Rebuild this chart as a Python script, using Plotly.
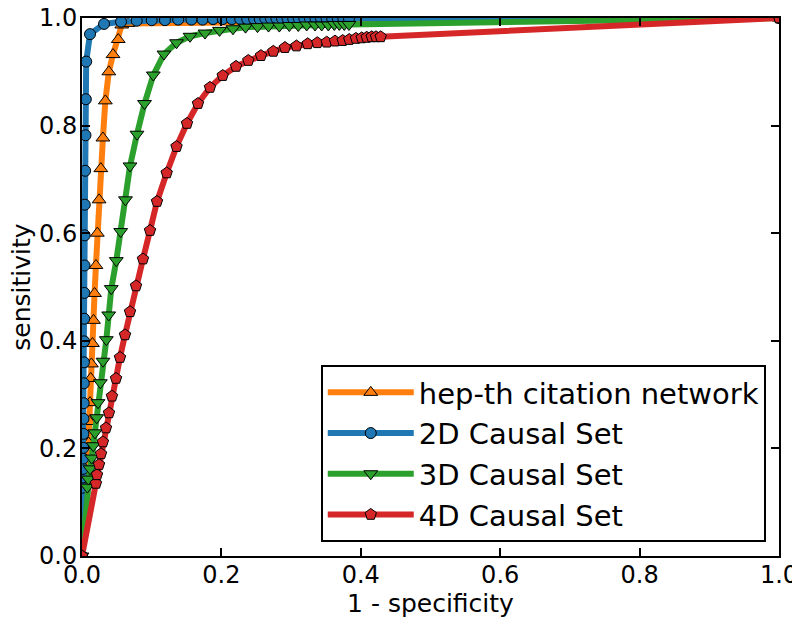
import plotly.graph_objects as go

# ---- data ----
hep_x = [0.0, 0.0085, 0.0095, 0.0105, 0.0115, 0.0125, 0.0135, 0.0150, 0.0165, 0.0180, 0.0200,
         0.0220, 0.0245, 0.0270, 0.0300, 0.0335, 0.0385, 0.0445, 0.0520, 0.0570, 0.0660, 1.0]
hep_y = [0.0, 0.170, 0.210, 0.250, 0.285, 0.330, 0.357, 0.395, 0.438, 0.488, 0.540,
         0.600, 0.662, 0.720, 0.777, 0.846, 0.900, 0.932, 0.960, 0.987, 0.990, 1.0]

c2d_x = [0.0, 0.0010, 0.0012, 0.0014, 0.0016, 0.0018, 0.0020, 0.0022, 0.0024, 0.0026, 0.0028,
         0.0030, 0.0032, 0.0034, 0.0036, 0.0038, 0.0040, 0.0045, 0.0050, 0.0055, 0.0060, 0.0115,
         0.0316, 0.056, 0.0785, 0.100, 0.119, 0.138, 0.157, 0.173, 0.188, 0.202, 0.215, 0.227,
         0.237, 0.247, 0.255, 0.263, 0.271, 0.279, 0.287, 0.295, 0.303, 0.311, 0.319, 0.327,
         0.335, 0.343, 0.351, 0.359, 0.367, 0.375, 0.383, 1.0]
c2d_y = [0.0, 0.127, 0.146, 0.162, 0.181, 0.201, 0.227, 0.255, 0.284, 0.321, 0.360,
         0.399, 0.441, 0.489, 0.540, 0.596, 0.653, 0.716, 0.782, 0.849, 0.919, 0.970,
         0.989, 0.993, 0.995, 0.996, 0.996, 0.997, 0.997, 0.997, 0.998, 0.998, 0.998, 0.998,
         0.998, 0.998, 0.998, 0.999, 0.999, 0.999, 0.999, 0.999, 0.999, 0.999, 0.999, 0.999,
         0.999, 0.999, 0.999, 0.999, 0.999, 0.999, 0.999, 1.0]

c3d_x = [0.0, 0.0076, 0.0090, 0.0115, 0.0139, 0.0162, 0.0187, 0.0211, 0.0230, 0.0263, 0.0301,
         0.0349, 0.0383, 0.0420, 0.0492, 0.0555, 0.0624, 0.0689, 0.0789, 0.0897, 0.1023,
         0.1176, 0.1356, 0.1550, 0.1765, 0.1973, 0.2166, 0.2346, 0.2518, 0.2676, 0.2831,
         0.2974, 0.3103, 0.3224, 0.3343, 0.3439, 0.3534, 0.3620, 0.3692, 0.3763, 0.3830, 1.0]
c3d_y = [0.0, 0.128, 0.143, 0.162, 0.182, 0.205, 0.229, 0.257, 0.285, 0.322, 0.362,
         0.402, 0.448, 0.497, 0.549, 0.603, 0.662, 0.725, 0.784, 0.841, 0.894,
         0.933, 0.954, 0.966, 0.972, 0.977, 0.980, 0.983, 0.984, 0.985, 0.985,
         0.986, 0.986, 0.987, 0.987, 0.987, 0.987, 0.988, 0.988, 0.988, 0.988, 1.0]

c4d_x = [0.0, 0.0200, 0.0215, 0.0244, 0.0273, 0.0300, 0.0344, 0.0387, 0.0430, 0.0488, 0.0545,
         0.0617, 0.0689, 0.0775, 0.0875, 0.0976, 0.1076, 0.1215, 0.1356, 0.1506, 0.1664,
         0.1836, 0.2019, 0.2210, 0.2386, 0.2568, 0.2745, 0.2912, 0.3077, 0.3238, 0.3376,
         0.3511, 0.3630, 0.3740, 0.3835, 0.3930, 0.4013, 0.4085, 0.4156, 0.4218, 0.4285, 1.0]
c4d_y = [0.0, 0.135, 0.151, 0.170, 0.190, 0.212, 0.238, 0.266, 0.297, 0.330, 0.369,
         0.411, 0.454, 0.502, 0.552, 0.605, 0.659, 0.712, 0.761, 0.804, 0.841,
         0.871, 0.893, 0.910, 0.921, 0.930, 0.938, 0.945, 0.948, 0.952, 0.954,
         0.955, 0.957, 0.958, 0.960, 0.962, 0.963, 0.964, 0.965, 0.965, 0.965, 1.0]

names = ["hep-th citation network", "2D Causal Set", "3D Causal Set", "4D Causal Set"]
tick_vals = [0.0, 0.2, 0.4, 0.6, 0.8, 1.0]
tick_text = ["0.0", "0.2", "0.4", "0.6", "0.8", "1.0"]
x_title = "1 - specificity"
y_title = "sensitivity"

colors = ["#ff7f0e", "#1f77b4", "#2ca02c", "#d62728"]
symbols = ["triangle-up", "circle", "triangle-down", "pentagon"]
sizes = [12, 11, 12, 12]

fig = go.Figure()
for xs, ys, name, col, sym, sz in zip(
        [hep_x, c2d_x, c3d_x, c4d_x], [hep_y, c2d_y, c3d_y, c4d_y],
        names, colors, symbols, sizes):
    fig.add_trace(go.Scatter(
        x=xs, y=ys, name=name, mode="lines+markers",
        line=dict(color=col, width=6),
        marker=dict(symbol=sym, size=sz, color=col,
                    line=dict(color="black", width=1)),
    ))

axis_common = dict(
    range=[0, 1], tickvals=tick_vals, ticktext=tick_text,
    showgrid=False, zeroline=False, automargin=False,
    showline=True, linecolor="black", linewidth=2, mirror="allticks",
    ticks="inside", ticklen=8, tickwidth=1.5, tickcolor="black",
    ticklabeloverflow="allow",
    tickfont=dict(family="DejaVu Sans", size=24, color="black"),
    title_font=dict(family="DejaVu Sans", size=25, color="black"),
)

# the page body adds an 8px offset, so margins are set smaller on top/left
fig.update_layout(
    width=800, height=624,
    margin=dict(l=74, r=29, t=10, b=76, autoexpand=False),
    paper_bgcolor="white", plot_bgcolor="white",
    xaxis=dict(axis_common, ticklabelstandoff=-4,
               title=dict(text=x_title, standoff=6)),
    yaxis=dict(axis_common, ticklabelstandoff=-2),
    legend=dict(
        x=0.981, y=0.026, xanchor="right", yanchor="bottom",
        bordercolor="black", borderwidth=2, bgcolor="white",
        font=dict(family="DejaVu Sans", size=29, color="black"),
        itemwidth=86, tracegroupgap=0,
    ),
    showlegend=True,
    annotations=[dict(
        text=y_title, textangle=-90, showarrow=False,
        xref="paper", yref="paper", x=-0.088, y=0.5,
        xanchor="center", yanchor="middle",
        font=dict(family="DejaVu Sans", size=25, color="black"),
    )],
)

fig.write_html("out.html")
